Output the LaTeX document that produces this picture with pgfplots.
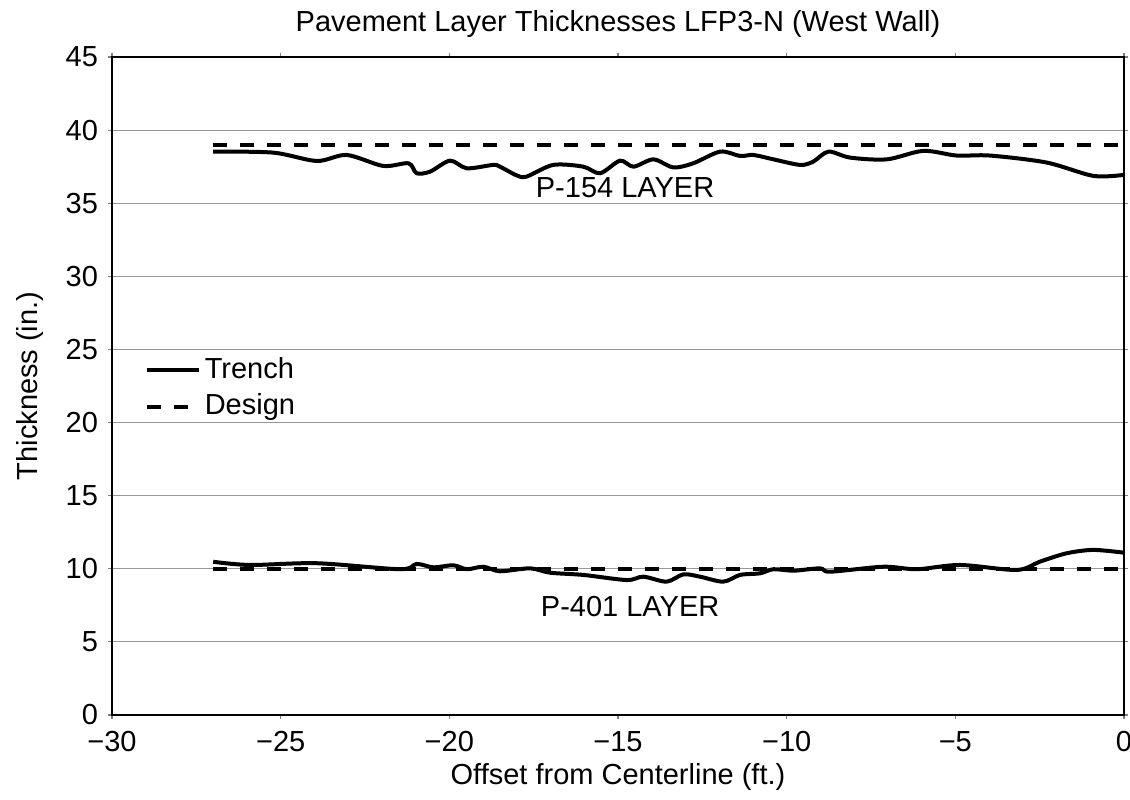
\documentclass[border=0pt]{standalone}
\usepackage{pgfplots}
\pgfplotsset{compat=1.18}
\usepackage{fontspec}
\setmainfont{Liberation Sans}
\newcommand\ff{\fontsize{14.5}{17}\selectfont}
\begin{document}
\ff
\begin{tikzpicture}
\begin{axis}[
  name=ax,
  scale only axis,
  width=506pt, height=329pt,
  xmin=-30, xmax=0, ymin=0, ymax=45,
  xtick={-30,-25,-20,-15,-10,-5,0},
  xticklabels={−30,−25,−20,−15,−10,−5,0},
  ytick={0,5,...,45},
  /pgf/number format/assume math mode=true,
  ymajorgrids,
  grid style={gray!80, line width=0.6pt},
  axis line style={black, line width=1.1pt},
  tick align=outside,
  major tick length=2pt,
  tick style={gray, line width=0.6pt},
  every tick label/.append style={font=\ff},
  xticklabel style={yshift=-1pt},
  legend style={draw=none, fill=none, at={(0.03,0.553)}, anchor=north west,
    font=\ff, row sep=1.5pt, inner sep=1pt},
  legend cell align=left,
  legend image code/.code={\draw[#1] (0pt,0pt) -- (26pt,0pt);},
  clip=false,
]
\addplot[black, line width=2pt, smooth, tension=0.5] coordinates {
(-27,38.53) (-25.22,38.46) (-23.93,37.89) (-23.04,38.30) (-21.96,37.55)
(-21.21,37.73) (-20.97,37.05) (-20.57,37.16) (-19.98,37.91) (-19.48,37.39)
(-18.70,37.62) (-18.5,37.5) (-18.0,36.9) (-17.71,36.82) (-16.92,37.62)
(-16.03,37.5) (-15.53,37.05) (-14.94,37.91) (-14.54,37.5) (-13.95,38.0)
(-13.36,37.45) (-12.77,37.73) (-11.97,38.53) (-11.38,38.23) (-10.99,38.30)
(-10.39,38.0) (-9.60,37.62) (-9.21,37.85) (-8.76,38.53) (-8.12,38.12)
(-7.03,38.0) (-5.95,38.58) (-4.96,38.26) (-3.97,38.26) (-2.29,37.78)
(-0.91,36.87) (0,36.94)
};
\addlegendentry{Trench}
\addplot[black, line width=2pt, dash pattern=on 7pt off 6.5pt] coordinates {(-27,39) (0,39)};
\addlegendentry{Design}
\addplot[black, line width=2pt, smooth, tension=0.5, forget plot] coordinates {
(-27,10.48) (-25.91,10.26) (-23.93,10.38) (-21.46,9.97) (-20.97,10.33)
(-20.47,10.1) (-19.88,10.24) (-19.48,9.97) (-18.99,10.14) (-18.50,9.83)
(-17.61,10.03) (-17.01,9.73) (-16.03,9.58) (-14.74,9.23) (-14.25,9.46)
(-13.56,9.12) (-13.06,9.62) (-12.57,9.46) (-11.88,9.12) (-11.38,9.58)
(-10.79,9.69) (-10.39,9.97) (-9.80,9.87) (-9.01,10.03) (-8.71,9.80)
(-7.13,10.14) (-6.14,9.97) (-4.86,10.26) (-3.18,9.92) (-2.49,10.49)
(-1.70,11.06) (-0.91,11.29) (0,11.10)
};
\addplot[black, line width=2pt, dash pattern=on 7pt off 6.5pt, forget plot] coordinates {(-27,10) (0,10)};
\node[font=\ff] at (axis cs:-14.79,36.05) {P-154 LAYER};
\node[font=\ff] at (axis cs:-14.64,7.39) {P-401 LAYER};
\node[font=\ff, inner sep=0pt] at (axis description cs:0.5,1.05) {Pavement Layer Thicknesses LFP3-N (West Wall)};
\node[font=\ff, inner sep=0pt] at (axis description cs:0.5,-0.0945) {Offset from Centerline (ft.)};
\node[font=\ff, inner sep=0pt, rotate=90] at (axis description cs:-0.081,0.5) {Thickness (in.)};
\end{axis}
\pgfresetboundingbox
\path (ax.south west)+(-56pt,-42pt) coordinate (bl);
\path (ax.north east)+(3pt,28.5pt) coordinate (tr);
\useasboundingbox (bl) rectangle (tr);
\end{tikzpicture}
\end{document}
